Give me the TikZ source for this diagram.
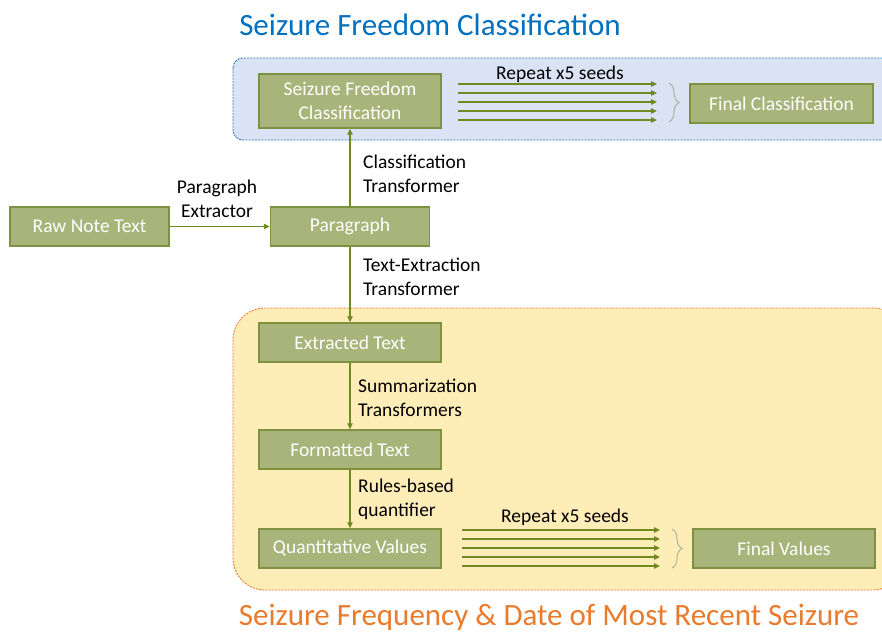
\documentclass[tikz,border=0pt]{standalone}
\usepackage{fontspec}
\setmainfont{Carlito}
\usetikzlibrary{arrows.meta,decorations.pathreplacing}
\definecolor{titleblue}{HTML}{0070C0}
\definecolor{titleorange}{HTML}{E97B2D}
\definecolor{bluefill}{HTML}{DAE3F3}
\definecolor{blueline}{HTML}{2E75B6}
\definecolor{yellowfill}{HTML}{FFEDB8}
\definecolor{orangeline}{HTML}{ED7D31}
\definecolor{boxfill}{HTML}{A9B47A}
\definecolor{boxline}{HTML}{7D9140}
\definecolor{arrowcol}{HTML}{6F8A22}
\definecolor{bracecol}{HTML}{A6AE8C}
\tikzset{
  stagebox/.style={draw=boxline, fill=boxfill, line width=1.4pt, text=white,
    font=\fontsize{19.5}{24}\selectfont, inner sep=0pt, minimum height=39pt, align=center},
  arr/.style={draw=arrowcol, line width=1.3pt, -{Triangle[length=6pt,width=5.5pt]}},
  lbl/.style={font=\fontsize{19.5}{24}\selectfont, text=black, align=left, anchor=west, inner sep=0pt},
  clbl/.style={font=\fontsize{19.5}{24}\selectfont, text=black, align=center, inner sep=0pt},
  bracestyle/.style={draw=bracecol, line width=0.9pt, decorate, decoration={brace, amplitude=10pt}},
  paneltitle/.style={font=\fontsize{31}{36}\selectfont, inner sep=0pt}
}
\begin{document}
\begin{tikzpicture}[x=1pt,y=-1pt]
\clip (0,0) rectangle (882,633);
\fill[white] (0,0) rectangle (882,633);
% panels
\draw[fill=bluefill, draw=blueline, line width=0.9pt, dash pattern=on 2pt off 1.2pt, rounded corners=10pt] (233,58) rectangle (905,140);
\draw[fill=yellowfill, draw=orangeline, line width=0.9pt, dash pattern=on 2pt off 1.2pt, rounded corners=32pt] (233,308) rectangle (905,590);
% titles
\node[paneltitle, text=titleblue] (t1) at (430,25) {Seizure Freedom Classification};
\node[paneltitle, text=titleorange] (t2) at (549,617) {Seizure Frequency \& Date of Most Recent Seizure};
% boxes
\node[stagebox, minimum width=182pt, minimum height=54pt] (sfc) at (350,101) {Seizure Freedom\\Classification};
\node[stagebox, minimum width=183pt] (fc) at (781.5,103.5) {Final Classification};
\node[stagebox, minimum width=159pt] (raw) at (89.5,226.5) {Raw Note Text};
\node[stagebox, minimum width=159pt] (para) at (350,226.5) {Paragraph};
\node[stagebox, minimum width=182pt] (ext) at (350,342.5) {Extracted Text};
\node[stagebox, minimum width=182pt] (fmt) at (350,449.5) {Formatted Text};
\node[stagebox, minimum width=182pt] (quant) at (350,548.5) {Quantitative Values};
\node[stagebox, minimum width=182pt] (fv) at (784,548.5) {Final Values};
% main connectors
\draw[arr] (raw) -- (para);
\draw[arr] (para) -- (sfc);
\draw[arr] (para) -- (ext);
\draw[arr] (ext) -- (fmt);
\draw[arr] (fmt) -- (quant);
% connector labels
\node[clbl] (l1) at (217,199) {Paragraph\\Extractor};
\node[lbl] (l2) at (363,174) {Classification\\Transformer};
\node[lbl] (l3) at (363,277) {Text-Extraction\\Transformer};
\node[lbl] (l4) at (358,398) {Summarization\\Transformers};
\node[lbl] (l5) at (358,499) {Rules-based\\quantifier};
% repeat arrows (top)
\foreach \i in {0,...,4} {
  \coordinate (ta\i) at (458,{84+9*\i});
  \coordinate (tb\i) at (657,{84+9*\i});
  \draw[arr] (ta\i) -- (tb\i);
}
\node[clbl] (r1) at (560,74) {Repeat x5 seeds};
\coordinate (bt1) at (669,83);
\coordinate (bb1) at (669,122);
\draw[bracestyle] (bt1) -- (bb1);
% repeat arrows (bottom)
\foreach \i in {0,...,4} {
  \coordinate (ba\i) at (462,{530+9*\i});
  \coordinate (bb\i) at (660,{530+9*\i});
  \draw[arr] (ba\i) -- (bb\i);
}
\node[clbl] (r2) at (565,517) {Repeat x5 seeds};
\coordinate (bt2) at (672,529);
\coordinate (bb2) at (672,568);
\draw[bracestyle] (bt2) -- (bb2);
\end{tikzpicture}
\end{document}
